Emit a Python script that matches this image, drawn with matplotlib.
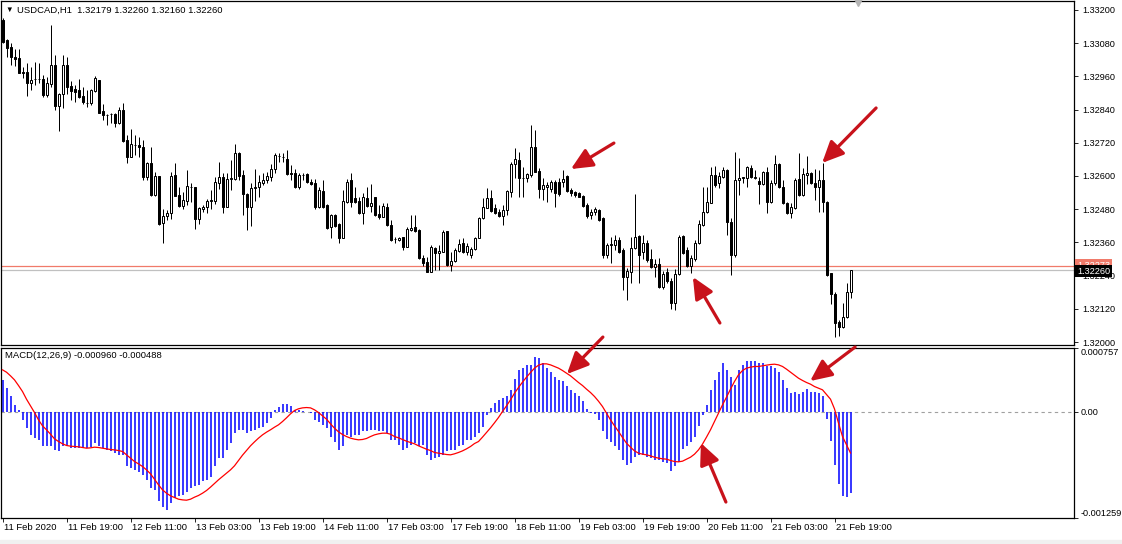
import matplotlib
matplotlib.use("Agg")
import matplotlib.pyplot as plt
import numpy as np

plt.rcParams['font.family'] = ['Liberation Sans', 'DejaVu Sans']
plt.rcParams['font.size'] = 6.8

# USDCAD H1, 11 Feb 2020 03:00 .. 21 Feb 2020 23:00
symbol = "USDCAD,H1"

opens = [
    1.33164, 1.33091, 1.33066, 1.33030, 1.33026, 1.32976, 1.32976, 1.32936, 1.32950, 1.32950,
    1.32950, 1.32893, 1.32932, 1.33001, 1.32853, 1.32896, 1.33001, 1.32925, 1.32914, 1.32911,
    1.32889, 1.32864, 1.32864, 1.32907, 1.32947, 1.32835, 1.32820, 1.32824, 1.32824, 1.32791,
    1.32838, 1.32730, 1.32669, 1.32712, 1.32712, 1.32705, 1.32596, 1.32647, 1.32531, 1.32600,
    1.32430, 1.32455, 1.32466, 1.32604, 1.32531, 1.32492, 1.32510, 1.32560, 1.32560, 1.32445,
    1.32481, 1.32488, 1.32510, 1.32510, 1.32575, 1.32596, 1.32488, 1.32589, 1.32589, 1.32683,
    1.32604, 1.32535, 1.32488, 1.32557, 1.32560, 1.32575, 1.32585, 1.32596, 1.32625, 1.32672,
    1.32669, 1.32661, 1.32611, 1.32611, 1.32560, 1.32604, 1.32607, 1.32578, 1.32575, 1.32488,
    1.32546, 1.32495, 1.32416, 1.32459, 1.32426, 1.32376, 1.32506, 1.32585, 1.32520, 1.32510,
    1.32466, 1.32520, 1.32492, 1.32524, 1.32463, 1.32452, 1.32488, 1.32423, 1.32372, 1.32369,
    1.32379, 1.32343, 1.32405, 1.32416, 1.32405, 1.32304, 1.32289, 1.32253, 1.32340, 1.32322,
    1.32325, 1.32401, 1.32278, 1.32293, 1.32329, 1.32358, 1.32325, 1.32314, 1.32336, 1.32376,
    1.32448, 1.32484, 1.32520, 1.32484, 1.32470, 1.32455, 1.32477, 1.32542, 1.32643, 1.32658,
    1.32593, 1.32593, 1.32604, 1.32705, 1.32618, 1.32553, 1.32560, 1.32553, 1.32578, 1.32578,
    1.32578, 1.32600, 1.32549, 1.32542, 1.32538, 1.32528, 1.32495, 1.32459, 1.32470, 1.32477,
    1.32448, 1.32314, 1.32351, 1.32351, 1.32369, 1.32332, 1.32235, 1.32253, 1.32340, 1.32383,
    1.32325, 1.32358, 1.32300, 1.32271, 1.32282, 1.32199, 1.32253, 1.32220, 1.32141, 1.32246,
    1.32383, 1.32332, 1.32275, 1.32300, 1.32358, 1.32423, 1.32470, 1.32502, 1.32604, 1.32575,
    1.32596, 1.32622, 1.32434, 1.32314, 1.32585, 1.32593, 1.32593, 1.32629, 1.32593, 1.32582,
    1.32571, 1.32614, 1.32506, 1.32575, 1.32643, 1.32560, 1.32502, 1.32466, 1.32484, 1.32589,
    1.32531, 1.32604, 1.32611, 1.32575, 1.32560, 1.32585, 1.32506, 1.32249, 1.32173, 1.32072,
    1.32054, 1.32090, 1.32179,
]
highs = [
    1.33171, 1.33095, 1.33081, 1.33059, 1.33059, 1.32994, 1.33008, 1.32994, 1.33012, 1.33008,
    1.32965, 1.32958, 1.33146, 1.33037, 1.32900, 1.33037, 1.33030, 1.32943, 1.32929, 1.32950,
    1.32922, 1.32911, 1.32914, 1.32961, 1.32947, 1.32860, 1.32824, 1.32828, 1.32828, 1.32849,
    1.32864, 1.32748, 1.32770, 1.32748, 1.32741, 1.32730, 1.32651, 1.32705, 1.32614, 1.32600,
    1.32481, 1.32477, 1.32614, 1.32647, 1.32560, 1.32542, 1.32622, 1.32575, 1.32560, 1.32488,
    1.32495, 1.32517, 1.32549, 1.32596, 1.32651, 1.32611, 1.32611, 1.32658, 1.32716, 1.32687,
    1.32622, 1.32538, 1.32575, 1.32625, 1.32604, 1.32611, 1.32614, 1.32643, 1.32683, 1.32683,
    1.32683, 1.32694, 1.32640, 1.32625, 1.32611, 1.32611, 1.32611, 1.32589, 1.32589, 1.32560,
    1.32585, 1.32499, 1.32463, 1.32463, 1.32430, 1.32549, 1.32589, 1.32611, 1.32560, 1.32524,
    1.32538, 1.32560, 1.32571, 1.32524, 1.32495, 1.32502, 1.32502, 1.32441, 1.32379, 1.32379,
    1.32379, 1.32416, 1.32459, 1.32459, 1.32408, 1.32314, 1.32307, 1.32351, 1.32343, 1.32351,
    1.32405, 1.32401, 1.32325, 1.32340, 1.32372, 1.32376, 1.32358, 1.32343, 1.32379, 1.32452,
    1.32520, 1.32557, 1.32549, 1.32499, 1.32481, 1.32495, 1.32549, 1.32651, 1.32701, 1.32687,
    1.32632, 1.32611, 1.32784, 1.32766, 1.32629, 1.32593, 1.32578, 1.32585, 1.32585, 1.32593,
    1.32622, 1.32604, 1.32557, 1.32546, 1.32542, 1.32531, 1.32502, 1.32481, 1.32488, 1.32481,
    1.32452, 1.32358, 1.32379, 1.32387, 1.32379, 1.32340, 1.32267, 1.32379, 1.32535, 1.32387,
    1.32387, 1.32369, 1.32336, 1.32300, 1.32304, 1.32257, 1.32267, 1.32231, 1.32264, 1.32387,
    1.32387, 1.32343, 1.32314, 1.32369, 1.32441, 1.32560, 1.32560, 1.32632, 1.32636, 1.32614,
    1.32632, 1.32625, 1.32448, 1.32687, 1.32665, 1.32596, 1.32636, 1.32640, 1.32622, 1.32596,
    1.32618, 1.32632, 1.32585, 1.32676, 1.32647, 1.32585, 1.32506, 1.32502, 1.32593, 1.32683,
    1.32629, 1.32672, 1.32614, 1.32625, 1.32622, 1.32647, 1.32510, 1.32249, 1.32181, 1.32080,
    1.32141, 1.32213, 1.32260,
]
lows = [
    1.33081, 1.33030, 1.33001, 1.32997, 1.32972, 1.32954, 1.32889, 1.32911, 1.32929, 1.32936,
    1.32885, 1.32885, 1.32922, 1.32838, 1.32763, 1.32846, 1.32896, 1.32875, 1.32867, 1.32882,
    1.32860, 1.32849, 1.32857, 1.32903, 1.32828, 1.32802, 1.32784, 1.32791, 1.32777, 1.32788,
    1.32723, 1.32647, 1.32669, 1.32676, 1.32669, 1.32585, 1.32585, 1.32528, 1.32528, 1.32423,
    1.32358, 1.32441, 1.32445, 1.32528, 1.32488, 1.32481, 1.32495, 1.32506, 1.32408, 1.32426,
    1.32470, 1.32466, 1.32481, 1.32499, 1.32553, 1.32466, 1.32488, 1.32549, 1.32585, 1.32585,
    1.32459, 1.32405, 1.32419, 1.32510, 1.32524, 1.32567, 1.32575, 1.32582, 1.32611, 1.32651,
    1.32651, 1.32604, 1.32585, 1.32557, 1.32553, 1.32585, 1.32575, 1.32567, 1.32481, 1.32484,
    1.32484, 1.32408, 1.32376, 1.32416, 1.32358, 1.32376, 1.32502, 1.32488, 1.32502, 1.32463,
    1.32426, 1.32488, 1.32470, 1.32455, 1.32445, 1.32452, 1.32419, 1.32365, 1.32358, 1.32365,
    1.32332, 1.32343, 1.32401, 1.32398, 1.32300, 1.32275, 1.32253, 1.32253, 1.32260, 1.32260,
    1.32325, 1.32275, 1.32257, 1.32289, 1.32325, 1.32322, 1.32314, 1.32304, 1.32332, 1.32376,
    1.32445, 1.32484, 1.32470, 1.32463, 1.32452, 1.32423, 1.32459, 1.32524, 1.32593, 1.32524,
    1.32524, 1.32578, 1.32596, 1.32614, 1.32520, 1.32513, 1.32506, 1.32542, 1.32488, 1.32528,
    1.32560, 1.32542, 1.32528, 1.32524, 1.32524, 1.32488, 1.32448, 1.32445, 1.32459, 1.32437,
    1.32304, 1.32304, 1.32286, 1.32332, 1.32322, 1.32188, 1.32152, 1.32213, 1.32336, 1.32213,
    1.32300, 1.32289, 1.32267, 1.32235, 1.32195, 1.32192, 1.32213, 1.32119, 1.32116, 1.32242,
    1.32318, 1.32271, 1.32249, 1.32293, 1.32354, 1.32419, 1.32466, 1.32502, 1.32560, 1.32557,
    1.32593, 1.32387, 1.32242, 1.32307, 1.32531, 1.32575, 1.32560, 1.32593, 1.32589, 1.32499,
    1.32567, 1.32466, 1.32502, 1.32567, 1.32557, 1.32499, 1.32463, 1.32448, 1.32481, 1.32528,
    1.32528, 1.32571, 1.32571, 1.32513, 1.32470, 1.32470, 1.32239, 1.32137, 1.32018, 1.32022,
    1.32051, 1.32087, 1.32160,
]
closes = [
    1.33084, 1.33063, 1.33030, 1.33023, 1.32972, 1.32972, 1.32936, 1.32947, 1.32950, 1.32950,
    1.32893, 1.32936, 1.33001, 1.32853, 1.32896, 1.33001, 1.32922, 1.32907, 1.32904, 1.32885,
    1.32867, 1.32864, 1.32911, 1.32954, 1.32828, 1.32820, 1.32820, 1.32824, 1.32791, 1.32838,
    1.32726, 1.32669, 1.32716, 1.32712, 1.32705, 1.32596, 1.32647, 1.32531, 1.32600, 1.32426,
    1.32455, 1.32466, 1.32600, 1.32528, 1.32492, 1.32513, 1.32564, 1.32560, 1.32445, 1.32484,
    1.32488, 1.32510, 1.32513, 1.32578, 1.32596, 1.32488, 1.32589, 1.32593, 1.32683, 1.32600,
    1.32535, 1.32488, 1.32557, 1.32560, 1.32578, 1.32585, 1.32600, 1.32625, 1.32676, 1.32672,
    1.32669, 1.32607, 1.32607, 1.32560, 1.32604, 1.32604, 1.32578, 1.32571, 1.32488, 1.32549,
    1.32488, 1.32412, 1.32459, 1.32419, 1.32376, 1.32510, 1.32578, 1.32506, 1.32506, 1.32466,
    1.32524, 1.32492, 1.32502, 1.32459, 1.32452, 1.32492, 1.32423, 1.32369, 1.32372, 1.32376,
    1.32343, 1.32408, 1.32412, 1.32401, 1.32304, 1.32286, 1.32253, 1.32343, 1.32322, 1.32329,
    1.32398, 1.32278, 1.32293, 1.32332, 1.32354, 1.32325, 1.32347, 1.32336, 1.32376, 1.32448,
    1.32488, 1.32520, 1.32473, 1.32466, 1.32455, 1.32477, 1.32546, 1.32643, 1.32661, 1.32593,
    1.32593, 1.32607, 1.32705, 1.32614, 1.32553, 1.32567, 1.32567, 1.32578, 1.32538, 1.32535,
    1.32589, 1.32546, 1.32538, 1.32531, 1.32524, 1.32492, 1.32455, 1.32470, 1.32481, 1.32441,
    1.32314, 1.32351, 1.32354, 1.32369, 1.32325, 1.32235, 1.32257, 1.32340, 1.32379, 1.32314,
    1.32358, 1.32296, 1.32271, 1.32282, 1.32199, 1.32246, 1.32220, 1.32141, 1.32246, 1.32379,
    1.32322, 1.32275, 1.32304, 1.32358, 1.32426, 1.32470, 1.32506, 1.32604, 1.32567, 1.32600,
    1.32622, 1.32434, 1.32314, 1.32585, 1.32593, 1.32596, 1.32632, 1.32596, 1.32596, 1.32571,
    1.32614, 1.32506, 1.32575, 1.32643, 1.32560, 1.32502, 1.32466, 1.32488, 1.32585, 1.32531,
    1.32607, 1.32611, 1.32575, 1.32560, 1.32585, 1.32506, 1.32242, 1.32173, 1.32069, 1.32054,
    1.32090, 1.32181, 1.32260,
]
ask_price = 1.32273

# MACD(12,26,9), values in 1e-6
macd_main = [
    380, 281, 182, 83, 16, -95, -194, -273, -312, -332,
    -403, -411, -403, -451, -470, -403, -411, -431, -431, -431,
    -431, -431, -419, -372, -411, -431, -451, -470, -490, -510,
    -510, -648, -668, -688, -708, -747, -806, -905, -925, -1063,
    -1123, -1162, -1083, -1024, -1004, -984, -945, -905, -885, -866,
    -826, -806, -767, -648, -549, -549, -451, -372, -253, -213,
    -213, -253, -233, -213, -194, -174, -134, -75, 24, 63,
    95, 95, 71, 24, 24, 12, -4, -8, -95, -115,
    -154, -194, -293, -352, -451, -411, -273, -293, -273, -273,
    -233, -233, -213, -213, -233, -233, -253, -332, -332, -391,
    -451, -431, -391, -372, -411, -391, -510, -569, -549, -530,
    -510, -470, -451, -451, -411, -391, -332, -332, -293, -253,
    -174, -36, 43, 103, 142, 162, 182, 261, 387, 498,
    518, 557, 557, 648, 636, 577, 518, 478, 419, 379,
    360, 308, 261, 221, 182, 123, 36, -8, -24, -95,
    -233, -320, -352, -403, -451, -569, -629, -609, -538, -510,
    -510, -530, -549, -569, -577, -589, -609, -696, -648, -589,
    -443, -403, -360, -293, -166, -36, 83, 261, 379, 478,
    577, 498, 419, 320, 498, 557, 597, 605, 605, 577,
    577, 546, 538, 518, 478, 379, 281, 229, 241, 213,
    241, 269, 241, 241, 229, 182, -83, -340, -629, -854,
    -1004, -1012, -960,
]
macd_signal = [
    498, 470, 427, 379, 312, 241, 150, 71, -8, -95,
    -166, -213, -265, -320, -352, -379, -399, -407, -411, -415,
    -423, -431, -427, -419, -423, -431, -439, -447, -451, -459,
    -470, -510, -549, -589, -617, -648, -688, -735, -799, -866,
    -925, -965, -996, -1016, -1036, -1044, -1048, -1036, -1012, -992,
    -965, -933, -893, -850, -806, -767, -727, -688, -640, -577,
    -514, -459, -403, -356, -312, -273, -241, -213, -182, -154,
    -115, -71, -24, 16, 36, 47, 51, 47, 24, -8,
    -47, -87, -142, -194, -237, -269, -293, -312, -324, -332,
    -328, -316, -293, -273, -261, -253, -253, -265, -293, -308,
    -328, -348, -364, -379, -403, -423, -443, -459, -482, -490,
    -498, -506, -510, -498, -482, -463, -439, -411, -376, -352,
    -300, -245, -190, -130, -67, 4, 71, 142, 221, 289,
    352, 411, 466, 518, 553, 569, 569, 557, 538, 518,
    490, 459, 427, 387, 348, 312, 269, 229, 182, 126,
    63, -16, -95, -166, -233, -304, -372, -419, -463, -490,
    -502, -510, -522, -538, -549, -557, -561, -577, -589, -593,
    -585, -561, -538, -502, -451, -383, -300, -213, -115, -16,
    83, 174, 269, 360, 439, 490, 518, 530, 538, 538,
    546, 553, 561, 565, 557, 538, 506, 470, 435, 399,
    372, 348, 328, 300, 281, 261, 205, 150, 35, -134,
    -293, -391, -488,
]
macd_scale = 1e-6

date_labels = ["11 Feb 2020", "11 Feb 19:00", "12 Feb 11:00", "13 Feb 03:00", "13 Feb 19:00",
               "14 Feb 11:00", "17 Feb 03:00", "17 Feb 19:00", "18 Feb 11:00", "19 Feb 03:00",
               "19 Feb 19:00", "20 Feb 11:00", "21 Feb 03:00", "21 Feb 19:00"]
bars_per_label = 16
price_ticks = [1.32000, 1.32120, 1.32240, 1.32360, 1.32480, 1.32600,
               1.32720, 1.32840, 1.32960, 1.33080, 1.33200]
macd_ticks = [0.000757, 0.0, -0.001259]
macd_tick_labels = ["0.000757", "0.00", "-0.001259"]

# ---- layout (pixels of a 1122x544 image)
W, H = 1122, 544
fig = plt.figure(figsize=(W / 100, H / 100), dpi=100)


def px_box(x0, y0, x1, y1):
    return [x0 / W, 1 - y1 / H, (x1 - x0) / W, (y1 - y0) / H]


ax = fig.add_axes(px_box(1, 1, 1074, 345))
axm = fig.add_axes(px_box(1, 348, 1074, 518))

n = len(closes)
x = np.arange(n)
o = np.array(opens)
h = np.array(highs)
l = np.array(lows)
c = np.array(closes)
up = c >= o
body_lo = np.minimum(o, c)
body_h = np.abs(c - o)

# candles: 1 px wicks, ~3 px bodies
ax.vlines(x, l, h, color='black', lw=0.72, zorder=2)
ax.bar(x[up], body_h[up], bottom=body_lo[up], width=0.5, facecolor='white',
       edgecolor='black', linewidth=0.72, zorder=3)
ax.bar(x[~up], body_h[~up], bottom=body_lo[~up], width=0.5, facecolor='black',
       edgecolor='black', linewidth=0.72, zorder=3)

ax.axhline(ask_price, color='#f07a6a', lw=0.9, zorder=1)
ax.axhline(closes[-1], color='#c0c0c0', lw=0.9, zorder=1)

xlim = (-0.375, 267.875)
ax.set_xlim(*xlim)
ax.set_ylim(1.319892, 1.332324)
ax.set_xticks([])
ax.yaxis.tick_right()
ax.set_yticks(price_ticks)
ax.set_yticklabels([f"{p:.5f}" for p in price_ticks])
ax.tick_params(axis='y', direction='out', length=3, width=0.6, pad=3, labelsize=6.6)
for s in ax.spines.values():
    s.set_linewidth(0.9)

# current ask / bid boxes on the price scale
ax.annotate(f"{ask_price:.5f}", xy=(1, ask_price), xycoords=('axes fraction', 'data'),
            xytext=(3, 1), textcoords='offset pixels', ha='left', va='center',
            color='white', fontsize=6.6, annotation_clip=False, zorder=5,
            bbox=dict(boxstyle='square,pad=0.2', fc='#f07a6a', ec='none'))
ax.annotate(f"{closes[-1]:.5f}", xy=(1, closes[-1]), xycoords=('axes fraction', 'data'),
            xytext=(3, -1), textcoords='offset pixels', ha='left', va='center',
            color='white', fontsize=6.6, annotation_clip=False, zorder=6,
            bbox=dict(boxstyle='square,pad=0.2', fc='black', ec='none'))

# header
ax.text(0.004, 0.974, "\u25BC", transform=ax.transAxes, fontsize=5.5, va='center', ha='left')
ax.text(0.015, 0.974, f"{symbol}  {opens[-1]:.5f} {highs[-1]:.5f} {lows[-1]:.5f} {closes[-1]:.5f}",
        transform=ax.transAxes, fontsize=6.8, va='center', ha='left')
ax.plot([0.799], [1.0], marker='v', color='#b4b4b4', ms=6.5, transform=ax.transAxes,
        clip_on=False, zorder=5)

# MACD pane
mm = np.array(macd_main) * macd_scale
ms = np.array(macd_signal) * macd_scale
axm.axhline(0, color='#a0a0a0', lw=0.8, ls=(0, (3, 3)), zorder=1)
axm.vlines(x, 0, mm, color='#0000ff', lw=1.1, zorder=2)
axm.plot(x, ms, color='#ff0000', lw=0.9, zorder=3)
axm.set_xlim(*xlim)
axm.set_ylim(macd_ticks[-1], macd_ticks[0])
axm.yaxis.tick_right()
axm.set_yticks(macd_ticks)
axm.set_yticklabels(macd_tick_labels)
axm.tick_params(axis='y', direction='out', length=3, width=0.6, pad=1.5, labelsize=6.6)
ylabels = axm.get_yticklabels()
ylabels[0].set_va('top')
ylabels[2].set_va('bottom')
for s in axm.spines.values():
    s.set_linewidth(0.9)
axm.text(0.004, 0.955, f"MACD(12,26,9) {mm[-1]:.6f} {ms[-1]:.6f}", transform=axm.transAxes,
         fontsize=6.8, va='center', ha='left')

date_bars = list(range(0, n, bars_per_label))
axm.set_xticks(date_bars)
axm.set_xticklabels([])
axm.tick_params(axis='x', direction='out', length=3, width=0.6)
for b, lab in zip(date_bars, date_labels):
    axm.annotate(lab, xy=(b, 0), xycoords=('data', 'axes fraction'), xytext=(2, -5),
                 textcoords='offset pixels', ha='left', va='top', fontsize=6.8,
                 annotation_clip=False)

# red arrows: tip (bar, value) and tail offset in pixels
arrow_color = '#c8121b'
arrow_props = dict(arrowstyle='-|>,head_length=0.65,head_width=0.3', color=arrow_color,
                   lw=2.3, shrinkA=0, shrinkB=0, mutation_scale=20)
price_arrows = [(142.1, 1.32625, 43, 26), (172.6, 1.32235, 27, -46), (204.9, 1.32647, 54, 55)]
macd_arrows = [(141.1, 0.000448, 36, 37), (174.6, -0.000370, 25, -59), (201.9, 0.000365, 45, 34)]
for target, arrows in ((ax, price_arrows), (axm, macd_arrows)):
    for bx, val, dx, dy in arrows:
        target.annotate('', xy=(bx, val), xytext=(dx, dy), textcoords='offset pixels',
                        arrowprops=arrow_props, annotation_clip=False, zorder=10)

# bottom status strip
fig.add_artist(plt.Rectangle((0, 0), 1, 4 / H, transform=fig.transFigure,
                             color='#f0f0f0', zorder=0))

fig.savefig('out.png', dpi=100)
